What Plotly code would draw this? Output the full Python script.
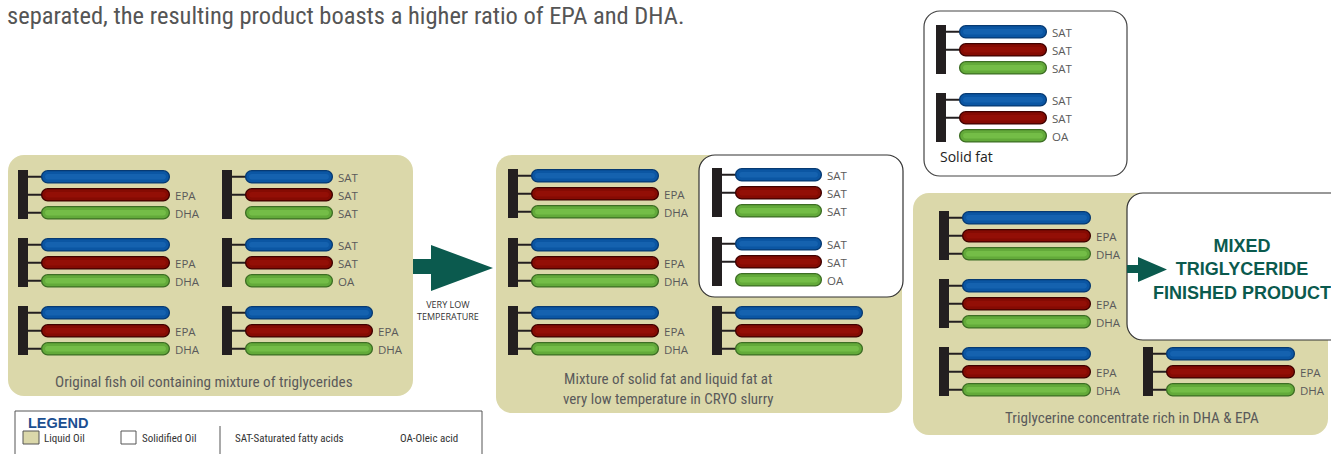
import plotly.graph_objects as go

# ---------------- content (text / labels) ----------------
intro_text = "separated, the resulting product boasts a higher ratio of EPA and DHA."
panel1_caption = "Original fish oil containing mixture of triglycerides"
panel2_caption = "Mixture of solid fat and liquid fat at<br>very low temperature in CRYO slurry"
panel3_caption = "Triglycerine concentrate rich in DHA & EPA"
solid_caption = "Solid fat"
arrow_caption = "VERY LOW<br>TEMPERATURE"
product_text = "<b>MIXED<br>TRIGLYCERIDE<br>FINISHED PRODUCT</b>"

# fatty-acid labels of each triglyceride (top, middle, bottom chain)
tri_fish = ["", "EPA", "DHA"]
tri_sat = ["SAT", "SAT", "SAT"]
tri_sat_oa = ["SAT", "SAT", "OA"]
tri_blank = ["", "", ""]

panel1_molecules = [tri_fish, tri_sat, tri_fish, tri_sat_oa, tri_fish, tri_fish]
panel2_molecules = [tri_fish, tri_sat, tri_fish, tri_sat_oa, tri_fish, tri_blank]
solid_molecules = [tri_sat, tri_sat_oa]
panel3_molecules = [tri_fish, tri_fish, tri_fish, tri_fish]

legend_title = "LEGEND"
legend_items = ["Liquid Oil", "Solidified Oil", "SAT-Saturated fatty acids", "OA-Oleic acid"]

# ---------------- layout (positions in page pixels) ----------------
panel1_pos = [(18, 170, 129), (222, 170, 88), (18, 238, 129), (222, 238, 88), (18, 306, 129), (222, 306, 128)]
panel2_pos = [(508, 169, 128), (712, 168, 87), (508, 238, 128), (712, 237, 87), (508, 306, 128), (712, 306, 128)]
solid_pos = [(936, 25, 88), (936, 93, 88)]
panel3_pos = [(939, 211, 129), (939, 279, 129), (939, 347, 129), (1143, 347, 129)]

W, H = 1331, 454
LIQUID = "#dbd8aa"
BAR = "#231f20"
TEAL = "#0b5a4e"
CAPTION = "#5a5a5a"
NARROW = "Roboto Condensed, DejaVu Sans Condensed, sans-serif"
HUMAN = "Open Sans, Noto Sans, sans-serif"
CHAIN_COLORS = [
    ("#073a72", "#0b56a3", "#1562af"),
    ("#3f0200", "#850b03", "#930f06"),
    ("#3d6e24", "#63aa3a", "#74bd47"),
]

shapes = []
annotations = []


def rrect_path(x0, y0, x1, y1, r):
    k = 0.5523 * r
    return (f"M {x0 + r},{y0} L {x1 - r},{y0} C {x1 - r + k},{y0} {x1},{y0 + r - k} {x1},{y0 + r} "
            f"L {x1},{y1 - r} C {x1},{y1 - r + k} {x1 - r + k},{y1} {x1 - r},{y1} "
            f"L {x0 + r},{y1} C {x0 + r - k},{y1} {x0},{y1 - r + k} {x0},{y1 - r} "
            f"L {x0},{y0 + r} C {x0},{y0 + r - k} {x0 + r - k},{y0} {x0 + r},{y0} Z")


def add_rrect(x0, y0, x1, y1, r, fill, line_color=None, line_width=0):
    shapes.append(dict(type="path", xref="x", yref="y", path=rrect_path(x0, y0, x1, y1, r),
                       fillcolor=fill, line=dict(color=line_color or fill, width=line_width), layer="above"))


def add_text(x, y, text, size, color, family, xanchor="center", yanchor="middle", align="center"):
    annotations.append(dict(x=x, y=y, xref="x", yref="y", text=text, showarrow=False,
                            font=dict(size=size, color=color, family=family),
                            xanchor=xanchor, yanchor=yanchor, align=align))


def add_molecule(labels, pos):
    bx, ty, length = pos
    connectors = 2 if labels[0] == "SAT" else 3
    cx0 = bx + 23
    cx1 = cx0 + length
    shapes.append(dict(type="rect", xref="x", yref="y", x0=bx, x1=bx + 10, y0=ty, y1=ty + 49,
                       fillcolor=BAR, line=dict(width=0), layer="above"))
    for i, lab in enumerate(labels):
        y0 = ty + 18 * i
        y1 = y0 + 13.5
        ym = (y0 + y1) / 2
        if i < connectors:
            shapes.append(dict(type="line", xref="x", yref="y", x0=bx + 10, x1=cx0 + 2, y0=ym, y1=ym,
                               line=dict(color=BAR, width=2), layer="above"))
        edge, body, hi = CHAIN_COLORS[i]
        add_rrect(cx0, y0, cx1, y1, 6.75, edge)
        add_rrect(cx0 + 1.3, y0 + 1.3, cx1 - 1.3, y1 - 1.3, 5.4, body)
        add_rrect(cx0 + 4, y0 + 4, cx1 - 4, y1 - 4, 2.7, hi)
        if lab:
            add_text(cx1 + 3, ym + 0.5, lab, 11.5, "#5a5a5a", HUMAN, xanchor="left")


# ---- panel backgrounds ----
add_rrect(8, 155, 413, 396, 16, LIQUID)
add_rrect(496, 155, 902, 413, 16, LIQUID)
add_rrect(699, 155, 903, 297, 16, "white", "#333333", 1.2)
add_rrect(924, 11, 1127, 176, 16, "white", "#444444", 1.2)
add_rrect(913, 193, 1328, 435, 16, LIQUID)
add_rrect(1127, 193, 1350, 340, 16, "white", "#333333", 1.2)

for labs, pos in zip(panel1_molecules, panel1_pos):
    add_molecule(labs, pos)
for labs, pos in zip(panel2_molecules, panel2_pos):
    add_molecule(labs, pos)
for labs, pos in zip(solid_molecules, solid_pos):
    add_molecule(labs, pos)
for labs, pos in zip(panel3_molecules, panel3_pos):
    add_molecule(labs, pos)

# ---- arrows ----
shapes.append(dict(type="path", xref="x", yref="y", layer="above", fillcolor=TEAL, line=dict(width=0),
                   path="M 413,259 L 431,259 L 431,245 L 493,268 L 431,291 L 431,274 L 413,274 Z"))
shapes.append(dict(type="path", xref="x", yref="y", layer="above", fillcolor=TEAL, line=dict(width=0),
                   path="M 1127,265 L 1138,265 L 1138,257 L 1167,269.5 L 1138,282 L 1138,273 L 1127,273 Z"))

# ---- texts ----
add_text(5, 15, intro_text, 24.5, "#555555", NARROW, xanchor="left")
add_text(204, 382, panel1_caption, 15.2, CAPTION, NARROW)
add_text(668, 389, panel2_caption, 15, CAPTION, NARROW)
add_text(1132, 418, panel3_caption, 15.2, CAPTION, NARROW)
add_text(938, 156, solid_caption, 14, "#222222", HUMAN, xanchor="left")
add_text(448, 310, arrow_caption, 9, "#333333", HUMAN)
add_text(1242, 269, product_text, 18, TEAL, "Liberation Sans, Arial, sans-serif")

# ---- legend box ----
shapes.append(dict(type="rect", xref="x", yref="y", x0=15, x1=482, y0=411, y1=470,
                   fillcolor="white", line=dict(color="#555555", width=1), layer="above"))
add_text(26, 423, f"<b>{legend_title}</b>", 14.5, "#1c4f91", "Liberation Sans, Arial, sans-serif", xanchor="left")
shapes.append(dict(type="rect", xref="x", yref="y", x0=23, x1=39, y0=431, y1=444,
                   fillcolor=LIQUID, line=dict(color="#555555", width=1), layer="above"))
shapes.append(dict(type="rect", xref="x", yref="y", x0=121, x1=136, y0=431, y1=444,
                   fillcolor="white", line=dict(color="#555555", width=1), layer="above"))
shapes.append(dict(type="line", xref="x", yref="y", x0=220, x1=220, y0=426, y1=456,
                   line=dict(color="#555555", width=1), layer="above"))
legend_x = [42, 140, 233, 398]
for lx, item in zip(legend_x, legend_items):
    add_text(lx, 438, item, 11, "#333333", NARROW, xanchor="left")

fig = go.Figure()
fig.update_layout(
    width=W, height=H, autosize=False,
    margin=dict(l=0, r=0, t=0, b=0),
    paper_bgcolor="white", plot_bgcolor="white",
    xaxis=dict(range=[0, W], visible=False, fixedrange=True),
    yaxis=dict(range=[H, 0], visible=False, fixedrange=True),
    shapes=shapes, annotations=annotations, showlegend=False,
)
fig.write_html("out.html", config={"displayModeBar": False},
               post_script="document.body.style.margin='0px';")
